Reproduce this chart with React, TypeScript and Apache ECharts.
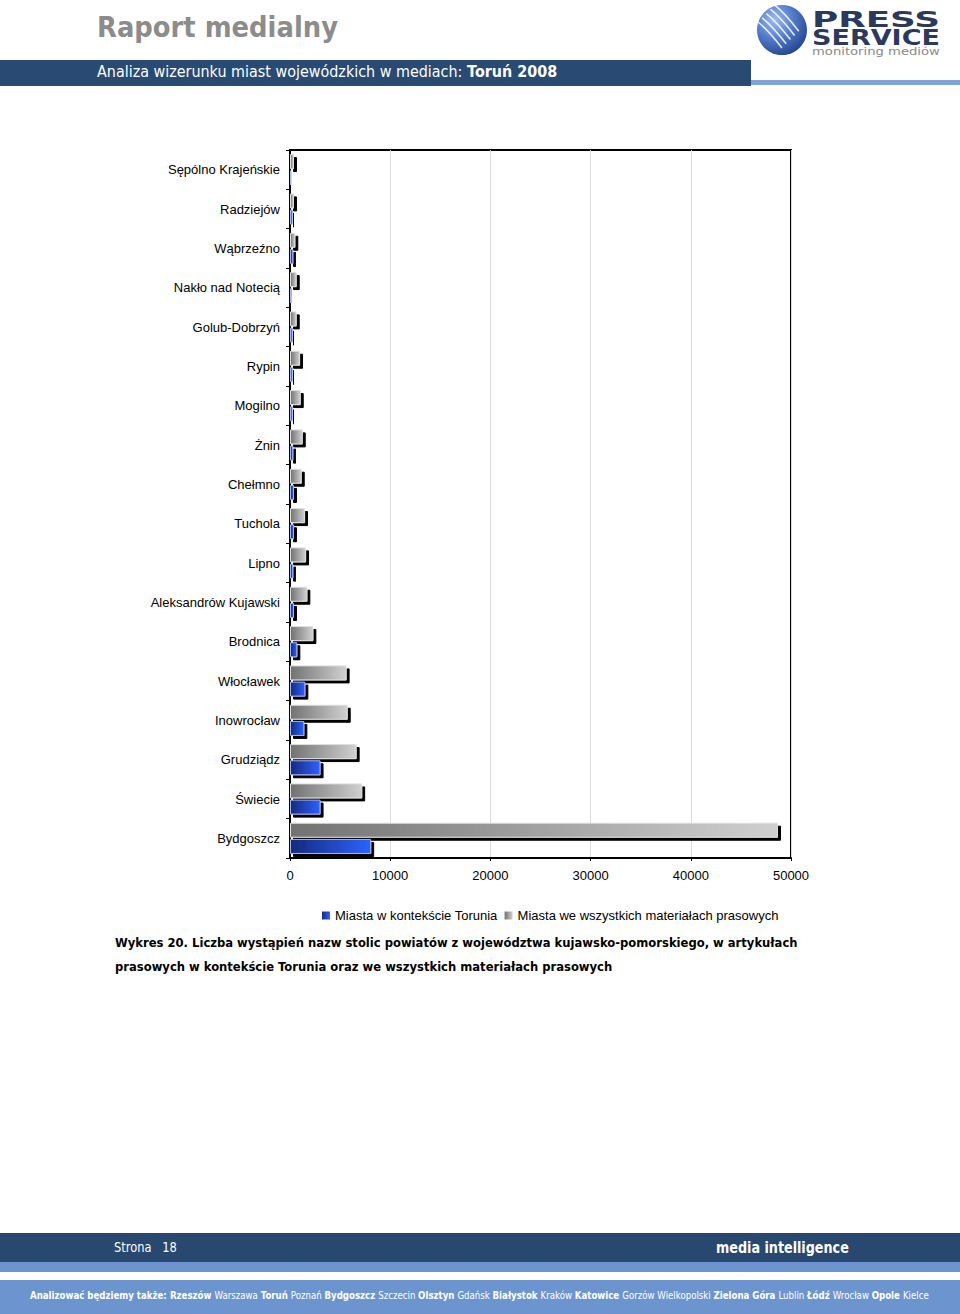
import React, { useEffect, useRef } from "react";
import * as echarts from "echarts";

// ---- data (categories listed bottom-to-top, as the category axis draws them) ----
const categories = [
  "Bydgoszcz",
  "Świecie",
  "Grudziądz",
  "Inowrocław",
  "Włocławek",
  "Brodnica",
  "Aleksandrów Kujawski",
  "Lipno",
  "Tuchola",
  "Chełmno",
  "Żnin",
  "Mogilno",
  "Rypin",
  "Golub-Dobrzyń",
  "Nakło nad Notecią",
  "Wąbrzeźno",
  "Radziejów",
  "Sępólno Krajeńskie",
];
const torunContext = [8100, 3050, 3050, 1430, 1530, 730, 400, 330, 400, 400, 330, 270, 270, 270, 200, 330, 270, 150];
const allMaterials = [48700, 7200, 6650, 5760, 5650, 2330, 1730, 1600, 1500, 1170, 1270, 1070, 1000, 670, 670, 530, 400, 400];
const seriesNames = ["Miasta w kontekście Torunia", "Miasta we wszystkich materiałach prasowych"];
const xMin = 0;
const xMax = 50000;
const xInterval = 10000;

const captionLine1 = "Wykres 20. Liczba wystąpień nazw stolic powiatów z województwa kujawsko-pomorskiego, w artykułach";
const captionLine2 = "prasowych w kontekście Torunia oraz we wszystkich materiałach prasowych";
const footerLead = "Analizować będziemy także:";
const footerCities: [string, boolean][] = [
  ["Rzeszów", true],
  ["Warszawa", false],
  ["Toruń", true],
  ["Poznań", false],
  ["Bydgoszcz", true],
  ["Szczecin", false],
  ["Olsztyn", true],
  ["Gdańsk", false],
  ["Białystok", true],
  ["Kraków", false],
  ["Katowice", true],
  ["Gorzów Wielkopolski", false],
  ["Zielona Góra", true],
  ["Lublin", false],
  ["Łódź", true],
  ["Wrocław", false],
  ["Opole", true],
  ["Kielce", false],
];

const SANS = "DejaVu Sans";

let ctx: CanvasRenderingContext2D | null = null;
function measure(text: string, size: number, weight: string, family: string) {
  if (!ctx) ctx = document.createElement("canvas").getContext("2d");
  if (!ctx) return text.length * size * 0.6;
  ctx.font = `${weight} ${size}px "${family}"`;
  return ctx.measureText(text).width;
}

function fitText(
  text: string,
  x: number,
  y: number,
  targetW: number,
  size: number,
  weight: string,
  fill: string,
  family = SANS
) {
  const w = measure(text, size, weight, family);
  return {
    type: "text",
    x,
    y,
    scaleX: targetW / w,
    style: { text, fill, fontSize: size, fontWeight: weight, fontFamily: family, align: "left", verticalAlign: "middle" },
  };
}

function richFit(
  parts: [string, boolean][],
  x: number,
  y: number,
  targetW: number,
  size: number,
  fill: string
) {
  let w = 0;
  parts.forEach(([t, b]) => (w += measure(t, size, b ? "bold" : "normal", SANS)));
  const text = parts.map(([t, b]) => `{${b ? "b" : "n"}|${t}}`).join("");
  return {
    type: "text",
    x,
    y,
    scaleX: targetW / w,
    style: {
      text,
      fill,
      fontSize: size,
      fontFamily: SANS,
      align: "left",
      verticalAlign: "middle",
      rich: {
        n: { fill, fontSize: size, fontFamily: SANS, fontWeight: "normal" },
        b: { fill, fontSize: size, fontFamily: SANS, fontWeight: "bold" },
      },
    },
  };
}

export default function App() {
  const ref = useRef<HTMLDivElement>(null);

  useEffect(() => {
    document.body.style.margin = "0";
    if (!ref.current) return;
    const chart = echarts.init(ref.current, undefined, { renderer: "svg" });

    const capSize = 13;
    const capW1 = measure(captionLine1, capSize, "bold", SANS);
    const capScale = 684 / capW1;

    const footerParts: [string, boolean][] = [[footerLead + " ", true]];
    footerCities.forEach(([c, b], i) => footerParts.push([c + (i < footerCities.length - 1 ? " " : ""), b]));

    const stripes: any[] = [];
    for (let i = 0; i < 5; i++) {
      const ox = 4.2 * i;
      const oy = -4.2 * i;
      stripes.push({
        type: "bezierCurve",
        shape: {
          x1: 758 + ox,
          y1: 22 + oy,
          x2: 782 + ox,
          y2: 48 + oy,
          cpx1: 768 + ox,
          cpy1: 30 + oy,
        },
        style: { stroke: "rgba(255,255,255,0.85)", lineWidth: 1.6, fill: null },
      });
    }

    const barShadow = {
      shadowColor: "#000",
      shadowOffsetX: 3,
      shadowOffsetY: 3,
      shadowBlur: 0,
    };

    const option: any = {
      animation: false,
      backgroundColor: "#fff",
      grid: {
        left: 290,
        top: 150,
        width: 501,
        height: 708,
        show: true,
        borderColor: "#000",
        borderWidth: 2,
        backgroundColor: "transparent",
      },
      legend: {
        left: 322,
        top: 909,
        padding: 0,
        itemWidth: 8,
        itemHeight: 8,
        itemGap: 7,
        icon: "rect",
        data: seriesNames,
        textStyle: { color: "#000", fontSize: 13, fontFamily: "Liberation Sans" },
        itemStyle: { shadowBlur: 0, shadowOffsetX: 0, shadowOffsetY: 0, shadowColor: "transparent", borderWidth: 0 },
      },
      xAxis: {
        type: "value",
        min: xMin,
        max: xMax,
        interval: xInterval,
        axisLine: { show: true, lineStyle: { color: "#000", width: 2 } },
        axisTick: { show: true, length: 3, lineStyle: { color: "#000" } },
        axisLabel: {
          color: "#000",
          fontSize: 13,
          fontFamily: "Liberation Sans",
          margin: 11,
          formatter: (v: number) => String(v),
        },
        splitLine: { show: true, lineStyle: { color: "#dcdcdc", width: 1 } },
      },
      yAxis: {
        type: "category",
        data: categories,
        axisLine: { show: true, lineStyle: { color: "#000", width: 2 } },
        axisTick: { show: true, length: 4, lineStyle: { color: "#000" } },
        axisLabel: { color: "#000", fontSize: 13, fontFamily: "Liberation Sans", margin: 10 },
      },
      series: [
        {
          name: seriesNames[1],
          type: "bar",
          data: allMaterials,
          barWidth: 15,
          barGap: "8%",
          emphasis: { disabled: true },
          itemStyle: {
            color: new echarts.graphic.LinearGradient(0, 0, 1, 0, [
              { offset: 0, color: "#727272" },
              { offset: 1, color: "#d0d0d0" },
            ]),
            borderColor: "#dedede",
            borderWidth: 1,
            ...barShadow,
          },
        },
        {
          name: seriesNames[0],
          type: "bar",
          data: torunContext,
          barWidth: 15,
          barGap: "8%",
          emphasis: { disabled: true },
          itemStyle: {
            color: new echarts.graphic.LinearGradient(0, 0, 1, 0, [
              { offset: 0, color: "#142a7c" },
              { offset: 1, color: "#2e62ff" },
            ]),
            borderColor: "#a6b6ee",
            borderWidth: 1,
            ...barShadow,
          },
        },
      ],
      graphic: [
        // header
        fitText("Raport medialny", 97, 27, 241, 28, "bold", "#8c8c8c"),
        { type: "rect", shape: { x: 0, y: 60, width: 751, height: 26 }, style: { fill: "#284a73" } },
        { type: "rect", shape: { x: 751, y: 80, width: 209, height: 5 }, style: { fill: "#7fa2da" } },
        richFit(
          [
            ["Analiza wizerunku miast wojewódzkich w mediach: ", false],
            ["Toruń 2008", true],
          ],
          97,
          72,
          460,
          16,
          "#fff"
        ),
        // logo
        {
          type: "circle",
          shape: { cx: 782, cy: 30, r: 25 },
          style: {
            fill: new echarts.graphic.RadialGradient(0.35, 0.3, 0.8, [
              { offset: 0, color: "#9dbcf0" },
              { offset: 0.5, color: "#4f78c8" },
              { offset: 1, color: "#1f3f86" },
            ]),
          },
        },
        ...stripes,
        fitText("PRESS", 812, 20, 128, 21, "bold", "#2b3a5a"),
        fitText("SERVICE", 812, 38, 128, 21, "bold", "#2b3a5a"),
        fitText("monitoring mediów", 812, 52, 128, 10, "normal", "#8a8a8a"),
        // caption
        {
          type: "text",
          x: 115,
          y: 943,
          scaleX: capScale,
          style: { text: captionLine1, fill: "#000", fontSize: capSize, fontWeight: "bold", fontFamily: SANS, verticalAlign: "middle" },
        },
        {
          type: "text",
          x: 115,
          y: 967,
          scaleX: capScale,
          style: { text: captionLine2, fill: "#000", fontSize: capSize, fontWeight: "bold", fontFamily: SANS, verticalAlign: "middle" },
        },
        // footer
        { type: "rect", shape: { x: 0, y: 1233, width: 960, height: 29 }, style: { fill: "#284870" } },
        { type: "rect", shape: { x: 0, y: 1262, width: 960, height: 10 }, style: { fill: "#6c95cf" } },
        { type: "rect", shape: { x: 0, y: 1280, width: 960, height: 34 }, style: { fill: "#6c95cf" } },
        fitText("Strona   18", 114, 1247, 63, 14, "normal", "#fff"),
        fitText("media intelligence", 716, 1248, 133, 15, "bold", "#fff"),
        richFit(footerParts, 30, 1295, 899, 10.5, "#fff"),
      ],
    };

    chart.setOption(option);
    return () => chart.dispose();
  }, []);

  return <div ref={ref} style={{ width: 960, height: 1314 }} />;
}
